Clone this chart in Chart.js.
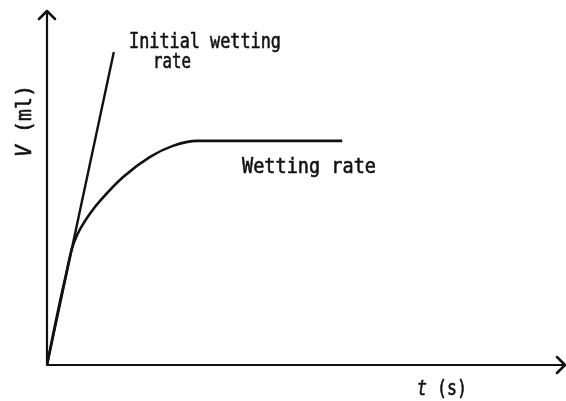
<!DOCTYPE html>
<html>
<head>
<meta charset="utf-8">
<script src="https://cdn.jsdelivr.net/npm/chart.js@4"></script>
<style>
  html, body { margin: 0; padding: 0; background: #fff; }
  #wrap { width: 566px; height: 401px; }
</style>
</head>
<body>
<div id="wrap"><canvas id="chart"></canvas></div>
<script>
// wetting curve V(t) (arbitrary units)
const tWetting = [0, 1.2, 2.5, 3.7, 4.8, 6.0, 7.3, 8.7, 10.2, 14.7, 19.9, 24.3, 29.0, 57.0];
const vWetting = [0, 8.8, 17.9, 25.8, 32.8, 37.3, 40.6, 43.6, 46.3, 53.1, 58.8, 61.9, 63.3, 63.3];

// tangent at the origin = initial wetting rate
const tInitial = [0, 12.9];
const vInitial = [0, 88.4];

const ink = '#111';

function toPoints(xs, ys) {
    return xs.map((x, i) => ({x: x, y: ys[i]}));
}

// draws text squeezed to a given width, parts = [[text, italic], ...]
function drawText(ctx, parts, x, y, width, size) {
    const fontOf = p => (p[1] ? 'italic ' : '') + '500 ' + size + 'px "DejaVu Sans Mono"';
    let total = 0;
    parts.forEach(p => {
        ctx.font = fontOf(p);
        total += ctx.measureText(p[0]).width;
    });
    ctx.save();
    ctx.translate(x, y);
    ctx.scale(width / total, 1);
    let cx = 0;
    parts.forEach(p => {
        ctx.font = fontOf(p);
        ctx.fillText(p[0], cx, 0);
        ctx.lineWidth = 0.6;
        ctx.strokeText(p[0], cx, 0);
        cx += ctx.measureText(p[0]).width;
    });
    ctx.restore();
}

const axesPlugin = {
    id: 'axes',
    afterDraw(chart) {
        const ctx = chart.ctx;
        const xs = chart.scales.x, ys = chart.scales.y;
        const x0 = xs.getPixelForValue(0), y0 = ys.getPixelForValue(0);
        const xEnd = xs.getPixelForValue(100), yEnd = ys.getPixelForValue(100);

        ctx.save();
        ctx.strokeStyle = ink;
        ctx.fillStyle = ink;
        ctx.lineWidth = 2.2;
        ctx.lineCap = 'round';
        ctx.lineJoin = 'round';

        // axes
        ctx.beginPath();
        ctx.moveTo(x0, yEnd);
        ctx.lineTo(x0, y0);
        ctx.lineTo(xEnd, y0);
        ctx.stroke();

        // arrow heads
        ctx.lineWidth = 2.5;
        ctx.beginPath();
        ctx.moveTo(x0 - 8, yEnd + 8);
        ctx.lineTo(x0, yEnd);
        ctx.lineTo(x0 + 8, yEnd + 8);
        ctx.moveTo(xEnd - 8, y0 - 8);
        ctx.lineTo(xEnd, y0);
        ctx.lineTo(xEnd - 8, y0 + 8);
        ctx.stroke();

        // labels
        ctx.textAlign = 'left';
        ctx.textBaseline = 'alphabetic';
        drawText(ctx, [['Initial wetting', false]], 129, 48, 152, 21);
        drawText(ctx, [['rate', false]], 153, 68, 38, 21);
        drawText(ctx, [['Wetting rate', false]], 242, 173, 134, 21);
        drawText(ctx, [['t', true], [' (s)', false]], 417, 395, 50, 21);

        ctx.save();
        ctx.translate(31, 157);
        ctx.rotate(-Math.PI / 2);
        drawText(ctx, [['V', true], [' (ml)', false]], 0, 0, 72, 21);
        ctx.restore();

        ctx.restore();
    }
};

const chart = new Chart(document.getElementById('chart').getContext('2d'), {
    type: 'scatter',
    data: {
        datasets: [{
            label: 'Wetting rate',
            data: toPoints(tWetting, vWetting),
            showLine: true,
            borderColor: ink,
            borderWidth: 2.6,
            pointRadius: 0,
            cubicInterpolationMode: 'monotone',
            fill: false
        },
        {
            label: 'Initial wetting rate',
            data: toPoints(tInitial, vInitial),
            showLine: true,
            borderColor: ink,
            borderWidth: 2.4,
            pointRadius: 0,
            fill: false
        }]
    },
    options: {
        responsive: true,
        maintainAspectRatio: false,
        animation: false,
        layout: { padding: { left: 47, top: 11, right: 1, bottom: 36 } },
        scales: {
            x: { type: 'linear', min: 0, max: 100, display: false },
            y: { type: 'linear', min: 0, max: 100, display: false }
        },
        plugins: {
            legend: { display: false },
            tooltip: { enabled: false }
        }
    },
    plugins: [axesPlugin]
});
</script>
</body>
</html>
